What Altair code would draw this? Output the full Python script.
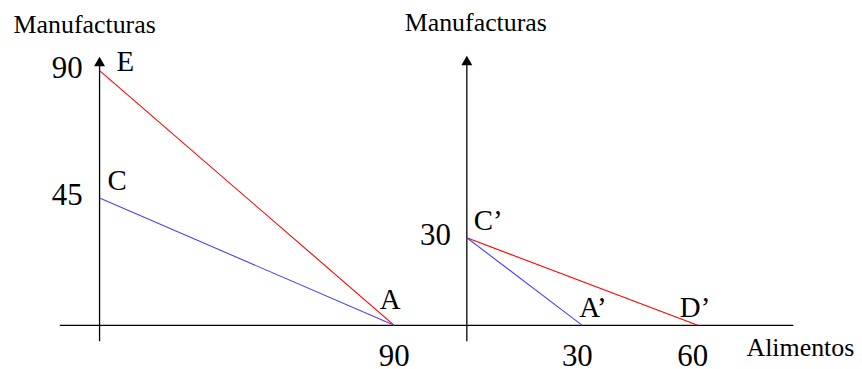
import altair as alt
import pandas as pd

# ---------------- data ----------------
# Left panel
left_red_x = [0, 90]
left_red_y = [90, 0]
left_blue_x = [0, 90]
left_blue_y = [45, 0]
left_point_labels = ["E", "C", "A"]
left_point_x = [0, 0, 90]
left_point_y = [90, 45, 0]
left_yticks = [90, 45]
left_xticks = [90]

# Right panel
right_red_x = [0, 60]
right_red_y = [30, 0]
right_blue_x = [0, 30]
right_blue_y = [30, 0]
right_point_labels = ["C’", "A’", "D’"]
right_point_x = [0, 30, 60]
right_point_y = [30, 0, 0]
right_yticks = [30]
right_xticks = [30, 60]

y_title = "Manufacturas"
x_title = "Alimentos"

# ---------------- styling ----------------
FONT = "Liberation Serif"
RED = "#ff0000"
BLUE = "#4646f0"

xl = alt.Scale(domain=[0, 90], range=[92, 388], nice=False, zero=False)
yl = alt.Scale(domain=[0, 90], range=[318, 62], nice=False, zero=False)
xr = alt.Scale(domain=[0, 60], range=[461, 693], nice=False, zero=False)
yr = alt.Scale(domain=[0, 30], range=[318, 230], nice=False, zero=False)

left_label_off = {"E": ("left", 17, 0), "C": ("left", 8, -8), "A": ("center", -4, -16)}
right_label_off = {"C’": ("left", 7, -8), "A’": ("left", -3, -8), "D’": ("left", -18, -8)}


def X(xs):
    return alt.X("x:Q", scale=xs, axis=None)


def Y(ys):
    return alt.Y("y:Q", scale=ys, axis=None)


def line(xv, yv, color, xs, ys):
    df = pd.DataFrame({"x": xv, "y": yv})
    return alt.Chart(df).mark_line(color=color, strokeWidth=1.1).encode(x=X(xs), y=Y(ys))


def panel(red, blue, labels, px, py, offs, yticks, ytick_dx, xticks, xtick_dx,
          xs, ys, arrow_y, title_xy, with_xaxis):
    layers = []
    # vertical axis
    layers.append(
        alt.Chart(pd.DataFrame({"x": [0]})).mark_rule(color="black", strokeWidth=1.3)
        .encode(x=X(xs), y=alt.value(arrow_y), y2=alt.value(334))
    )
    layers.append(
        alt.Chart(pd.DataFrame({"x": [0]}))
        .mark_point(shape="triangle-up", filled=True, size=121, color="black", opacity=1)
        .encode(x=X(xs), y=alt.value(arrow_y))
    )
    if with_xaxis:
        layers.append(
            alt.Chart(pd.DataFrame({"y": [0]})).mark_rule(color="black", strokeWidth=1.3)
            .encode(y=Y(ys), x=alt.value(52), x2=alt.value(789))
        )
    layers.append(line(red[0], red[1], RED, xs, ys))
    layers.append(line(blue[0], blue[1], BLUE, xs, ys))
    # point labels
    for lab, lx, ly in zip(labels, px, py):
        al, dx, dy = offs[lab]
        layers.append(
            alt.Chart(pd.DataFrame({"x": [lx], "y": [ly], "t": [lab]}))
            .mark_text(font=FONT, fontSize=29, align=al, baseline="alphabetic",
                       dx=dx, dy=dy, color="black")
            .encode(x=X(xs), y=Y(ys), text="t:N")
        )
    # y tick labels
    ydf = pd.DataFrame({"x": [0] * len(yticks), "y": yticks, "t": [str(v) for v in yticks]})
    layers.append(
        alt.Chart(ydf).mark_text(font=FONT, fontSize=31, align="right", baseline="alphabetic",
                                 dx=ytick_dx, dy=7.5, color="black")
        .encode(x=X(xs), y=Y(ys), text="t:N")
    )
    # x tick labels
    xdf = pd.DataFrame({"x": xticks, "y": [0] * len(xticks), "t": [str(v) for v in xticks]})
    layers.append(
        alt.Chart(xdf).mark_text(font=FONT, fontSize=31, align="center", baseline="alphabetic",
                                 dx=xtick_dx, dy=41, color="black")
        .encode(x=X(xs), y=Y(ys), text="t:N")
    )
    # y title
    layers.append(
        alt.Chart(pd.DataFrame({"t": [y_title]}))
        .mark_text(font=FONT, fontSize=26, align="center", baseline="alphabetic", color="black")
        .encode(x=alt.value(title_xy[0]), y=alt.value(title_xy[1]), text="t:N")
    )
    return alt.layer(*layers)


left = panel((left_red_x, left_red_y), (left_blue_x, left_blue_y),
             left_point_labels, left_point_x, left_point_y, left_label_off,
             left_yticks, -17, left_xticks, 0, xl, yl, 53, (77, 24), True)

right = panel((right_red_x, right_red_y), (right_blue_x, right_blue_y),
              right_point_labels, right_point_x, right_point_y, right_label_off,
              right_yticks, -16, right_xticks, -5, xr, yr, 52, (470, 22), False)

xtitle = (
    alt.Chart(pd.DataFrame({"t": [x_title]}))
    .mark_text(font=FONT, fontSize=26, align="left", baseline="alphabetic", color="black")
    .encode(x=alt.value(742), y=alt.value(349), text="t:N")
)

chart = (
    alt.layer(left, right, xtitle)
    .resolve_scale(x="independent", y="independent")
    .properties(width=850, height=361, padding=0, autosize=alt.AutoSizeParams(type="none"))
    .configure_view(stroke=None)
)

chart.save("out.html", embed_options={"renderer": "svg", "actions": False})
